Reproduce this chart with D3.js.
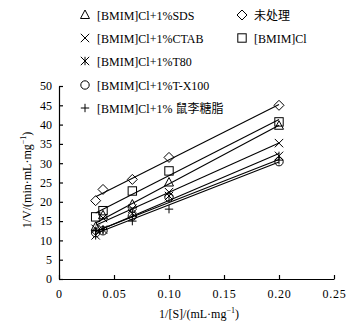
<!DOCTYPE html>
<html>
<head>
<meta charset="utf-8">
<script src="https://cdn.jsdelivr.net/npm/d3@7"></script>
<style>
  body { margin: 0; background: #fff; }
  text { font-family: "Liberation Serif", "Times New Roman", serif; fill: #000; }
  .cjk { font-family: "Noto Sans CJK SC", sans-serif; }
</style>
</head>
<body>
<svg id="chart"></svg>
<script>
// 1/[S] values (mL/mg)
const xValues = [1/30, 1/25, 1/15, 1/10, 1/5];

// 1/V for each treatment
const untreated   = [20.3, 23.2, 25.8, 31.5, 45.0];
const bmimcl      = [16.1, 17.7, 22.8, 28.0, 40.7];
const sds         = [13.5, 16.5, 19.3, 25.0, 39.7];
const ctab        = [13.0, 15.8, 18.2, 22.5, 35.2];
const t80         = [11.3, 12.8, 17.0, 21.5, 31.9];
const tx100       = [12.0, 12.5, 16.3, 21.2, 30.4];
const rhamno      = [12.5, 12.8, 15.0, 18.1, 30.8];

const seriesNames = ["[BMIM]Cl+1%SDS", "[BMIM]Cl+1%CTAB", "[BMIM]Cl+1%T80",
                     "[BMIM]Cl+1%T-X100", "[BMIM]Cl+1% 鼠李糖脂", "未处理", "[BMIM]Cl"];
const seriesValues = [sds, ctab, t80, tx100, rhamno, untreated, bmimcl];
const seriesMarkers = ["triangle", "cross", "star", "circle", "plus", "diamond", "square"];

const xTicks = [0, 0.05, 0.10, 0.15, 0.20, 0.25];
const yTicks = [0, 5, 10, 15, 20, 25, 30, 35, 40, 45, 50];

const W = 358, H = 333;
const margin = { left: 59, right: 24, top: 86, bottom: 54 };

const svg = d3.select('#chart').attr('width', W).attr('height', H);

const xScale = d3.scaleLinear().domain([0, 0.25]).range([margin.left, W - margin.right]);
const yScale = d3.scaleLinear().domain([0, 50]).range([H - margin.bottom, margin.top]);

// axes with inward ticks
const xAxis = d3.axisBottom(xScale).tickValues(xTicks).tickSize(-4).tickSizeOuter(0)
    .tickFormat(d => d === 0 ? '0' : d.toFixed(2));
const yAxis = d3.axisLeft(yScale).tickValues(yTicks).tickSize(-4).tickSizeOuter(0);

const xg = svg.append('g')
    .attr('transform', `translate(0,${yScale(0)})`)
    .call(xAxis);
const yg = svg.append('g')
    .attr('transform', `translate(${xScale(0)},0)`)
    .call(yAxis);

[xg, yg].forEach(g => {
  g.select('.domain').attr('stroke', '#000').attr('stroke-width', 1.2);
  g.selectAll('.tick line').attr('stroke', '#000').attr('stroke-width', 1.2);
  g.selectAll('.tick text')
      .style('font-family', '"Liberation Serif", serif')
      .style('font-size', '12px')
      .attr('fill', '#000');
});
xg.selectAll('.tick text').attr('y', 10).style('letter-spacing', '0.8px');
yg.selectAll('.tick text').attr('x', -7);

// axis titles
const xt = svg.append('text')
    .attr('x', 199).attr('y', 318)
    .attr('text-anchor', 'middle')
    .style('font-size', '12px');
xt.append('tspan').text('1/[S]/(mL·mg');
xt.append('tspan').attr('dy', -5).style('font-size', '8px').text('−1');
xt.append('tspan').attr('dy', 5).text(')');

const yt = svg.append('text')
    .attr('transform', 'translate(31,180) rotate(-90)')
    .attr('text-anchor', 'middle')
    .style('font-size', '12px');
yt.append('tspan').text('1/V/(min·mL·mg');
yt.append('tspan').attr('dy', -5).style('font-size', '8px').text('−1');
yt.append('tspan').attr('dy', 5).text(')');

// marker drawing
function drawMarker(g, type, cx, cy) {
  const s = 4.2;
  const stroke = { fill: 'none', stroke: '#000', 'stroke-width': 1 };
  let el;
  switch (type) {
    case 'diamond':
      el = g.append('path').attr('d', `M${cx},${cy - 5}L${cx + 5},${cy}L${cx},${cy + 5}L${cx - 5},${cy}Z`);
      break;
    case 'square':
      el = g.append('rect').attr('x', cx - s).attr('y', cy - s).attr('width', 2 * s).attr('height', 2 * s);
      break;
    case 'triangle':
      el = g.append('path').attr('d', `M${cx},${cy - 5}L${cx + 4.5},${cy + 3.5}L${cx - 4.5},${cy + 3.5}Z`);
      break;
    case 'cross':
      el = g.append('path').attr('d', `M${cx - s},${cy - s}L${cx + s},${cy + s}M${cx - s},${cy + s}L${cx + s},${cy - s}`);
      break;
    case 'star':
      el = g.append('path').attr('d', `M${cx - s},${cy - s}L${cx + s},${cy + s}M${cx - s},${cy + s}L${cx + s},${cy - s}M${cx},${cy - s}L${cx},${cy + s}`);
      break;
    case 'circle':
      el = g.append('circle').attr('cx', cx).attr('cy', cy).attr('r', 4.2);
      break;
    case 'plus':
      el = g.append('path').attr('d', `M${cx - s},${cy}L${cx + s},${cy}M${cx},${cy - s}L${cx},${cy + s}`);
      break;
  }
  Object.entries(stroke).forEach(([k, v]) => el.attr(k, v));
}

// least-squares fit line for each series
function fit(xs, ys) {
  const mx = d3.mean(xs), my = d3.mean(ys);
  const b = d3.sum(xs, (x, i) => (x - mx) * (ys[i] - my)) / d3.sum(xs, x => (x - mx) ** 2);
  return { b, a: my - b * mx };
}

const marks = svg.append('g');
seriesValues.forEach((vals, i) => {
  const f = fit(xValues, vals);
  const x0 = xValues[0], x1 = xValues[xValues.length - 1];
  marks.append('line')
      .attr('x1', xScale(x0)).attr('y1', yScale(f.a + f.b * x0))
      .attr('x2', xScale(x1)).attr('y2', yScale(f.a + f.b * x1))
      .attr('stroke', '#000').attr('stroke-width', 1.1);
  vals.forEach((v, j) => drawMarker(marks, seriesMarkers[i], xScale(xValues[j]), yScale(v)));
});

// legend
const legend = svg.append('g');
const legendPos = [
  [85, 15], [85, 38], [85, 61], [85, 85], [85, 108],
  [242, 15], [242, 38]
];
seriesNames.forEach((name, i) => {
  const [lx, ly] = legendPos[i];
  drawMarker(legend, seriesMarkers[i], lx, ly);
  const t = legend.append('text')
      .attr('x', lx + 12).attr('y', ly + 4.5)
      .style('font-size', '12px');
  if (name === '未处理') {
    t.attr('class', 'cjk').text(name);
  } else if (name.includes('鼠李糖脂')) {
    t.append('tspan').text('[BMIM]Cl+1% ');
    t.append('tspan').attr('class', 'cjk').style('font-size', '12px').text('鼠李糖脂');
  } else {
    t.text(name);
  }
});
</script>
</body>
</html>
